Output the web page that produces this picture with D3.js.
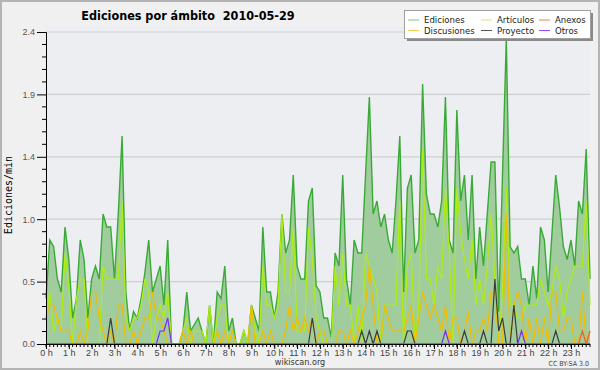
<!DOCTYPE html>
<html>
<head>
<meta charset="utf-8">
<script src="https://cdn.jsdelivr.net/npm/d3@7"></script>
<style>
  body { margin: 0; background: #f0f0f0; }
  svg { display: block; font-family: "DejaVu Sans Condensed", "DejaVu Sans", sans-serif; }
</style>
</head>
<body>
<div id="chart"></div>
<script>
/* DATA - ediciones/min, one value per 10 minutes (6 per hour, 144 per day) */
const ediciones = [
  0.35,0.8,0.75,0.5,0.4,0.9,   0.65,0.2,0.35,0.8,0.65,0.2,
  0.5,0.6,0.5,1.0,0.9,0.9,     0.5,1.0,1.6,0.4,0.1,0.25,
  0.2,0.35,0.55,0.8,0.4,0.5,   0.6,0.3,0.8,0,0,0,
  0.1,0.4,0.1,0.15,0.2,0.1,    0,0.3,0,0.4,0.35,0.6,
  0.1,0.2,0,0,0.1,0,           0.3,0.2,0.1,0.9,0.4,0.4,
  0.2,0.4,1.0,0.7,0.8,1.3,     0.6,0.5,0.5,1.1,1.2,0.45,
  0.4,0.2,0.2,0.05,0.7,0.6,    1.3,0.5,0.3,0.8,0.7,0.7,
  1.3,1.9,1.0,1.1,0.9,1.0,     0.8,0.7,1.1,1.6,0.4,1.2,
  1.3,0.7,0.8,2.0,1.15,1.0,    1.0,0.9,1.1,1.9,0.8,0.7,
  1.8,1.1,1.3,0.8,1.3,0.5,     0.9,0.6,1.0,1.4,1.4,0.25,
  1.3,2.35,0.75,0.7,0.75,0.5,  0.5,0.3,0.6,0.35,0.9,0.8,
  0.4,0.85,1.3,1.05,0.75,0.65, 0.8,0.6,1.1,1.0,1.5,0.5
];
const articulos = [
  0.2,0.4,0.1,0.2,0.1,0.7,     0.45,0,0.35,0.5,0.5,0,
  0,0,0,0.6,0.5,0.5,           0.5,0.5,1.1,0.2,0.1,0.2,
  0.2,0.3,0.5,0.4,0,0.2,       0.3,0.2,0.4,0,0,0,
  0.1,0.2,0,0.1,0.1,0.1,       0,0.3,0,0.2,0.3,0.3,
  0,0.1,0,0,0.1,0,             0.3,0.1,0,0.6,0.3,0.3,
  0.2,0.3,1.0,0.4,0.4,0.9,     0.1,0.1,0.1,0.9,0.65,0.2,
  0.1,0,0,0,0.6,0.3,           0.7,0.3,0.3,0,0.3,0,
  0.7,0.6,0.5,0.4,0,0.3,       0.3,0.3,0.3,1.1,0,0.6,
  0.7,0,0.3,1.5,0.5,0.5,       0.3,0.6,0.5,1.2,0.7,0,
  1.2,0.85,0.65,0.5,0.8,0.3,   0.5,0.3,0.6,1.0,0.5,0,
  0.4,1.2,0.3,0.3,0.2,0.2,     0.3,0.3,0.3,0.3,0.5,0.4,
  0.3,0.4,0.6,0.5,0.2,0.4,     0.5,0.6,0.6,0.6,1.1,0.3
];
const discusiones = [
  0.2,0.3,0.3,0.2,0.1,0.1,     0.1,0,0,0.1,0,0.1,
  0.4,0.4,0.2,0.1,0,0.1,       0,0.3,0.3,0,0,0.1,
  0,0.1,0.2,0.2,0.4,0.2,       0.2,0.1,0,0,0,0,
  0.1,0,0.1,0,0,0,             0,0,0,0.1,0,0.1,
  0,0.1,0,0,0,0,               0.3,0,0,0.1,0,0.1,
  0,0,0,0.1,0.3,0.1,           0.2,0.1,0.2,0.1,0.2,0,
  0.1,0.1,0,0,0,0.1,           0.1,0,0.1,0,0.1,0.2,
  0.3,0.6,0.3,0,0,0.3,         0.2,0.1,0.1,0.1,0.1,0.2,
  0.3,0,0.2,0.4,0.3,0.2,       0.3,0.2,0.1,0.3,0,0.2,
  0.2,0,0.1,0.25,0,0.1,        0.1,0.2,0.1,0.4,0.4,0,
  0,1.0,0,0.3,0.4,0.3,         0,0.2,0,0.2,0,0.2,
  0,0.4,0.4,0.1,0.1,0.2,       0.2,0,0,0.4,0,0.1
];
const proyecto = [
  0,0,0,0,0,0,  0,0,0,0,0,0,
  0,0,0,0,0,0.2,  0,0,0,0,0,0,
  0,0,0,0,0,0,  0,0,0,0,0,0,
  0,0,0,0,0,0,  0,0,0,0,0,0,
  0,0,0,0,0,0,  0,0,0,0,0,0,
  0,0,0,0,0,0,  0,0,0,0,0.2,0,
  0,0,0,0,0,0,  0,0,0,0,0,0.1,
  0,0.1,0,0.1,0,0,  0,0,0,0,0,0.1,
  0.1,0,0,0,0,0,  0,0,0,0,0,0,
  0,0,0.1,0,0,0,  0,0.1,0,0,0.5,0.1,
  0.2,0,0,0.3,0,0,  0,0,0,0,0,0,
  0,0,0.1,0,0,0,  0,0,0,0,0,0
];
const otros = [
  0,0,0,0,0,0,  0,0,0,0,0,0,
  0,0,0,0,0,0,  0,0,0,0,0,0,
  0,0,0,0,0,0,  0.1,0.1,0.2,0,0,0,
  0,0,0,0,0,0,  0,0,0,0,0,0,
  0,0,0,0,0,0,  0,0,0,0,0,0,
  0,0,0,0,0,0,  0,0,0,0,0,0,
  0,0,0,0,0,0,  0,0,0,0,0,0,
  0,0,0,0,0,0,  0,0,0,0,0,0,
  0,0,0,0,0,0,  0,0,0,0.1,0,0,
  0,0,0,0,0,0,  0,0,0,0,0,0,
  0,0,0,0,0,0.1,  0,0,0,0,0,0,
  0,0,0,0,0,0,  0,0,0,0,0,0
];
const anexos = [
  0,0,0,0,0,0,  0,0,0,0,0,0,
  0,0,0,0,0,0,  0,0,0,0,0,0,
  0,0,0,0,0,0,  0,0,0,0,0,0,
  0,0,0,0,0,0,  0,0,0,0,0,0,
  0,0,0,0,0,0,  0,0,0,0,0,0,
  0,0,0,0,0,0,  0,0,0,0,0,0,
  0,0,0,0,0,0,  0,0,0,0,0,0,
  0,0,0,0,0,0,  0,0,0,0,0,0,
  0,0,0,0,0,0,  0,0,0,0,0,0,
  0,0,0,0,0,0,  0,0,0,0,0,0,
  0,0,0,0,0,0,  0,0,0,0,0,0,
  0,0,0,0,0,0,  0,0,0,0.1,0,0.1
];
const hourLabels = ["0 h","1 h","2 h","3 h","4 h","5 h","6 h","7 h","8 h","9 h","10 h","11 h",
  "12 h","13 h","14 h","15 h","16 h","17 h","18 h","19 h","20 h","21 h","22 h","23 h"];
const yTickValues = [0, 0.48, 0.96, 1.44, 1.92, 2.4];
const yTickLabels = ["0.0", "0.5", "1.0", "1.4", "1.9", "2.4"];

/* series drawn on top of the area */
const series = [
  {name: "Artículos", values: articulos, color: "#aeee10"},
  {name: "Discusiones", values: discusiones, color: "#f4bc00"},
  {name: "Proyecto", values: proyecto, color: "#3c3c3c"},
  {name: "Otros", values: otros, color: "#7a2ef0"},
  {name: "Anexos", values: anexos, color: "#f0602a"}
];
// legend, row by row
const legendItems = [
  {name: "Ediciones", color: "#7ccc7c", col: 0, row: 0},
  {name: "Artículos", color: "#c8ee70", col: 1, row: 0},
  {name: "Anexos", color: "#f08050", col: 2, row: 0},
  {name: "Discusiones", color: "#f4cc50", col: 0, row: 1},
  {name: "Proyecto", color: "#555555", col: 1, row: 1},
  {name: "Otros", color: "#9a50f0", col: 2, row: 1}
];

const width = 600, height = 370;
const plot = {left: 46, right: 590, top: 32, bottom: 344};

const svg = d3.select("#chart").append("svg")
  .attr("width", width)
  .attr("height", height);

// background + frame
svg.append("rect")
  .attr("x", 1).attr("y", 1)
  .attr("width", width - 2).attr("height", height - 2)
  .attr("fill", "#f0f0f0")
  .attr("stroke", "#b4b4b4")
  .attr("stroke-width", 2);

const xScale = d3.scaleLinear()
  .domain([0, ediciones.length - 1])
  .range([plot.left, plot.right]);
const yScale = d3.scaleLinear()
  .domain([0, 2.4])
  .range([plot.bottom, plot.top]);

// plot area
svg.append("rect")
  .attr("x", plot.left).attr("y", plot.top - 6)
  .attr("width", plot.right - plot.left).attr("height", plot.bottom - plot.top + 6)
  .attr("fill", "#eceef1");

// gridlines
svg.append("g")
  .selectAll("line")
  .data(yTickValues.slice(1))
  .join("line")
  .attr("x1", plot.left).attr("x2", plot.right)
  .attr("y1", d => yScale(d)).attr("y2", d => yScale(d))
  .attr("stroke", "#cfcfcf")
  .attr("stroke-width", 1.2);

// ediciones area + line
const area = d3.area()
  .x((d, i) => xScale(i))
  .y0(yScale(0))
  .y1(d => yScale(d));
const line = d3.line()
  .x((d, i) => xScale(i))
  .y(d => yScale(d));

svg.append("path")
  .datum(ediciones)
  .attr("d", area)
  .attr("fill", "#a0cc9e");
svg.append("path")
  .datum(ediciones)
  .attr("d", line)
  .attr("fill", "none")
  .attr("stroke", "#3aaa36")
  .attr("stroke-width", 1.4);

// the other series
svg.append("g")
  .selectAll("path")
  .data(series)
  .join("path")
  .attr("d", d => line(d.values))
  .attr("fill", "none")
  .attr("stroke", d => d.color)
  .attr("stroke-width", 1.2);

// y axis
const yAxis = d3.axisLeft(yScale)
  .tickValues(yTickValues)
  .tickFormat((d, i) => yTickLabels[i])
  .tickSize(9)
  .tickPadding(2);
const yAxisG = svg.append("g")
  .attr("transform", `translate(${plot.left},0)`)
  .call(yAxis);
yAxisG.select(".domain").attr("stroke", "#000");
yAxisG.selectAll("text").attr("fill", "#555").attr("font-size", 9);

// minor y ticks
const yMinor = d3.range(0, 2.4, 0.096).filter((d, i) => i % 5 != 0);
svg.append("g")
  .selectAll("line")
  .data(yMinor)
  .join("line")
  .attr("x1", plot.left - 4).attr("x2", plot.left)
  .attr("y1", d => yScale(d)).attr("y2", d => yScale(d))
  .attr("stroke", "#000");

// x axis
const xAxis = d3.axisBottom(xScale)
  .tickValues(hourLabels.map((h, i) => i * 6))
  .tickFormat((d, i) => hourLabels[i])
  .tickSize(5)
  .tickPadding(1);
const xAxisG = svg.append("g")
  .attr("transform", `translate(0,${plot.bottom})`)
  .call(xAxis);
xAxisG.select(".domain").attr("stroke", "#000").attr("d", `M${plot.left},0.5H${plot.right}`);
xAxisG.selectAll("text").attr("fill", "#444").attr("font-size", 9);

// minor x ticks (every 10 min)
svg.append("g")
  .selectAll("line")
  .data(ediciones.map((d, i) => i))
  .join("line")
  .attr("x1", d => xScale(d)).attr("x2", d => xScale(d))
  .attr("y1", plot.bottom).attr("y2", plot.bottom + 3)
  .attr("stroke", "#000");

// title
svg.append("text")
  .attr("x", 188).attr("y", 20)
  .attr("text-anchor", "middle")
  .attr("font-size", 12.5)
  .attr("font-weight", "bold")
  .style("white-space", "pre")
  .text("Ediciones por ámbito  2010-05-29");

// y label
svg.append("text")
  .attr("transform", "translate(12,195) rotate(-90)")
  .attr("text-anchor", "middle")
  .attr("font-family", "DejaVu Sans Mono")
  .attr("font-size", 10)
  .text("Ediciones/min");

// footer
svg.append("text")
  .attr("x", 300).attr("y", 365)
  .attr("text-anchor", "middle")
  .attr("font-size", 9)
  .attr("fill", "#333")
  .text("wikiscan.org");
svg.append("text")
  .attr("x", 589).attr("y", 366)
  .attr("text-anchor", "end")
  .attr("font-size", 7)
  .attr("fill", "#444")
  .text("CC BY-SA 3.0");

// legend
const legend = svg.append("g");
legend.append("rect")
  .attr("x", 407).attr("y", 13).attr("width", 186).attr("height", 28)
  .attr("fill", "#8a8a8a");
legend.append("rect")
  .attr("x", 404.5).attr("y", 10.5).attr("width", 186).attr("height", 28)
  .attr("fill", "#fff")
  .attr("stroke", "#a0a0a0");
const colX = [408, 481, 539];
const rowY = [20, 30.5];
const items = legend.selectAll("g.item")
  .data(legendItems)
  .join("g")
  .attr("class", "item")
  .attr("transform", d => `translate(${colX[d.col]},${rowY[d.row]})`);
items.append("line")
  .attr("x1", 0).attr("x2", 11)
  .attr("stroke", d => d.color);
items.append("text")
  .attr("x", 16).attr("dy", "0.35em")
  .attr("font-size", 9.5)
  .attr("fill", "#222")
  .text(d => d.name);
</script>
</body>
</html>
